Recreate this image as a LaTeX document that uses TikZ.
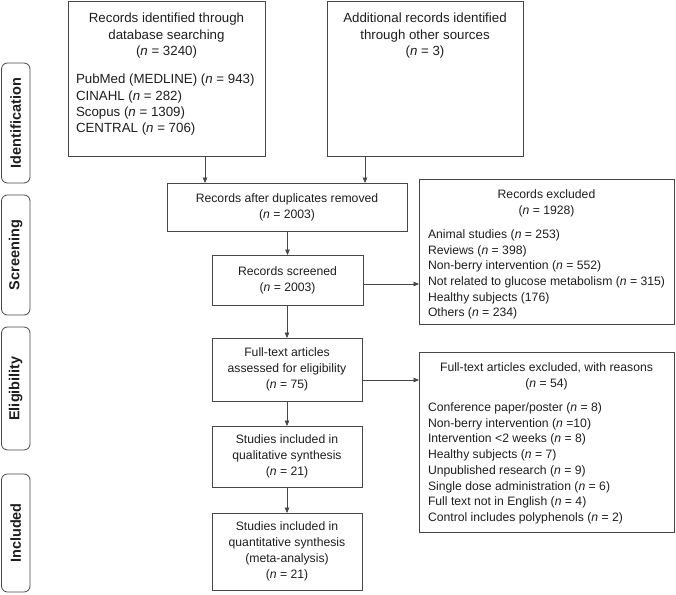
\documentclass[tikz,border=0pt]{standalone}
\usepackage{fontspec}
\setmainfont{Liberation Sans}
\usetikzlibrary{arrows.meta}
\definecolor{lc}{HTML}{474747}
\definecolor{tc}{HTML}{1E1E1E}
\newcommand{\nn}{\textit{n}}
\begin{document}
\begin{tikzpicture}[x=1pt,y=-1pt,
  every node/.style={inner sep=0pt,outer sep=0pt,text=tc,font=\fontsize{12.2}{16}\selectfont},
  box/.style={draw=lc,line width=0.8pt},
  topbox/.style={box,font=\fontsize{13.3}{16.3}\selectfont},
  side/.style={draw=lc,line width=0.8pt,rounded corners=6pt,rotate=90,minimum height=28.5pt,font=\fontsize{14.5}{16}\selectfont\bfseries},
  arr/.style={draw=lc,line width=0.8pt,-{Triangle[length=5.5pt,width=4.6pt]}}]
\useasboundingbox (0,0) rectangle (676,594);

% side labels
\node[side,minimum width=120pt] (sid) at (15.75,123) {Identification};
\node[side,minimum width=120pt] (ssc) at (15.75,255) {Screening};
\node[side,minimum width=123pt] (sel) at (15.75,388.5) {Eligibility};
\node[side,minimum width=118pt] (sin) at (15.75,533) {Included};

% top boxes
\node[topbox] (A) at (166.5,78.75) {\parbox[c][154.5pt][t]{197pt}{\vspace*{11.8pt}\centering Records identified through\\database searching\\(\nn{} = 3240)\par\vspace{12pt}\raggedright\leftskip=8pt PubMed (MEDLINE) (\nn{} = 943)\\CINAHL (\nn{} = 282)\\Scopus (\nn{} = 1309)\\CENTRAL (\nn{} = 706)\par}};
\node[topbox] (B) at (425,78.75) {\parbox[c][154.5pt][t]{196pt}{\vspace*{11.8pt}\centering Additional records identified\\through other sources\\(\nn{} = 3)\par}};

% main column
\node[box] (C) at (287,207) {\parbox[c][48pt][c]{240pt}{\centering Records after duplicates removed\\(\nn{} = 2003)}};
\node[box] (D) at (287.5,280) {\parbox[c][50pt][c]{151pt}{\centering Records screened\\(\nn{} = 2003)}};
\node[box] (E) at (287,369.5) {\parbox[c][63pt][c]{150pt}{\centering Full-text articles\\assessed for eligibility\\(\nn{} = 75)}};
\node[box] (F) at (287,456.5) {\parbox[c][61pt][c]{150pt}{\centering Studies included in\\qualitative synthesis\\(\nn{} = 21)}};
\node[box] (G) at (287,551.5) {\parbox[c][77pt][c]{150pt}{\centering Studies included in\\quantitative synthesis\\(meta-analysis)\\(\nn{} = 21)}};

% exclusion boxes
\node[box] (RE) at (546.5,251.5) {\parbox[c][145pt][t]{255pt}{\vspace*{10.5pt}\centering Records excluded\\(\nn{} = 1928)\par\vspace{8.3pt}\fontsize{12.2}{15.7}\selectfont\raggedright\leftskip=9pt Animal studies (\nn{} = 253)\\Reviews (\nn{} = 398)\\Non-berry intervention (\nn{} = 552)\\Not related to glucose metabolism (\nn{} = 315)\\Healthy subjects (176)\\Others (\nn{} = 234)\par}};
\node[box] (FE) at (546.5,442.35) {\parbox[c][179.3pt][t]{255pt}{\vspace*{10pt}\centering Full-text articles excluded, with reasons\\(\nn{} = 54)\par\vspace{8.3pt}\fontsize{12.2}{15.7}\selectfont\raggedright\leftskip=9pt Conference paper/poster (\nn{} = 8)\\Non-berry intervention (\nn{} =10)\\Intervention <2 weeks (\nn{} = 8)\\Healthy subjects (\nn{} = 7)\\Unpublished research (\nn{} = 9)\\Single dose administration (\nn{} = 6)\\Full text not in English (\nn{} = 4)\\Control includes polyphenols (\nn{} = 2)\par}};

% connectors
\coordinate (xa) at (205,0);
\coordinate (xb) at (365,0);
\coordinate (ya) at (0,284);
\coordinate (yb) at (0,380);
\draw[arr] (A.south -| xa) -- (C.north -| xa);
\draw[arr] (B.south -| xb) -- (C.north -| xb);
\draw[arr] (C.south -| D.north) -- (D.north);
\draw[arr] (D.east |- ya) -- (RE.west |- ya);
\draw[arr] (D.south -| E.north) -- (E.north);
\draw[arr] (E.east |- yb) -- (FE.west |- yb);
\draw[arr] (E.south) -- (F.north);
\draw[arr] (F.south) -- (G.north);
\end{tikzpicture}
\end{document}
